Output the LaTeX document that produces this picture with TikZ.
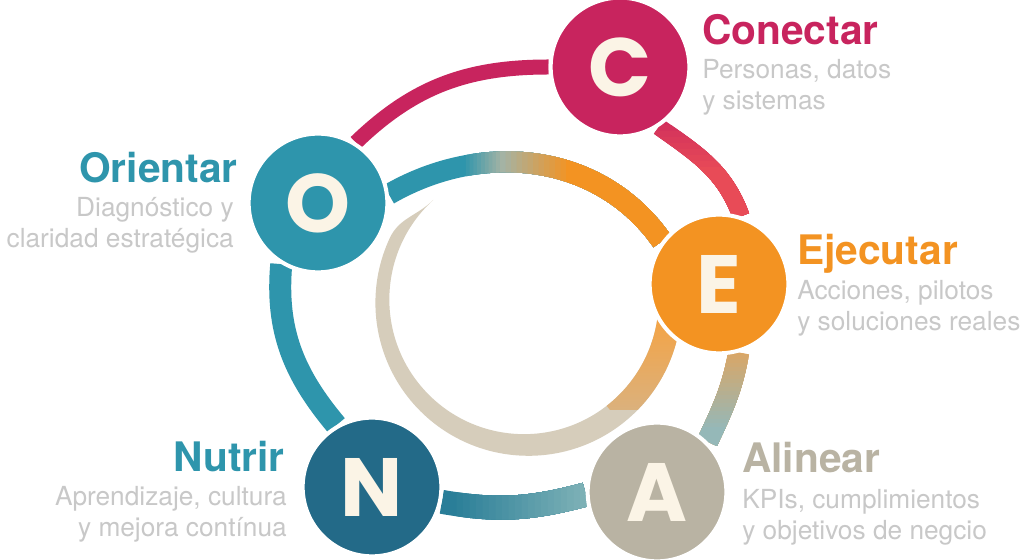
\documentclass[tikz,border=0pt]{standalone}
\usepackage{fontspec}
\setmainfont{TeX Gyre Heros}
\newfontfamily\letterfont{Poppins}
\usetikzlibrary{backgrounds}
\definecolor{crim}{HTML}{C8245E}
\definecolor{coral}{HTML}{E84B57}
\definecolor{tealc}{HTML}{2E95AC}
\definecolor{navy}{HTML}{236A88}
\definecolor{ntl}{HTML}{2A7E98}
\definecolor{lteal}{HTML}{7DB1B6}
\definecolor{orng}{HTML}{F39322}
\definecolor{stone}{HTML}{B9B3A3}
\definecolor{sand}{HTML}{D6CDBB}
\definecolor{sagec}{HTML}{A4B3A4}
\definecolor{tanc}{HTML}{DDA562}
\definecolor{mist}{HTML}{95B8B8}
\definecolor{cream}{HTML}{FBF4E6}
\definecolor{txtgray}{HTML}{C8C8C8}

\begin{document}
\begin{tikzpicture}[x=0.75pt,y=0.75pt,
  letter/.style={circle,minimum size=104pt,inner sep=0pt,draw=white,line width=3pt,text=cream,
    font=\letterfont\bfseries\fontsize{62}{62}\selectfont},
  title/.style={inner sep=0pt,font=\bfseries\fontsize{30.5}{36}\selectfont},
  desc/.style={inner sep=0pt,text=txtgray,font=\fontsize{19.7}{23.25}\selectfont},
  arcline/.style={line width=#1,line cap=butt}]
\useasboundingbox(0,0)rectangle(1024,560);
\node[letter,fill=crim](c)at(620,493){C};
\node[letter,fill=tealc](o)at(318,357){O};
\node[letter,fill=orng](e)at(719,276){E};
\node[letter,fill=navy](n)at(372,73){N};
\node[letter,fill=stone](a)at(657,68){A};
\node[title,text=crim,anchor=base west](ct)at(702,515){Conectar};
\node[desc,align=left,anchor=base west](cd)at(702,450){Personas, datos\\y sistemas};
\node[title,text=orng,anchor=base west](et)at(797,295){Ejecutar};
\node[desc,align=left,anchor=base west](ed)at(797,229){Acciones, pilotos\\y soluciones reales};
\node[title,text=stone,anchor=base west](at)at(742,87){Alinear};
\node[desc,align=left,anchor=base west](ad)at(742,20){KPIs, cumplimientos\\y objetivos de negcio};
\node[title,text=tealc,anchor=base east](ot)at(238,377){Orientar};
\node[desc,align=right,anchor=base east](od)at(234,312){Diagnóstico y\\claridad estratégica};
\node[title,text=tealc,anchor=base east](nt)at(285,88){Nutrir};
\node[desc,align=right,anchor=base east](nd)at(287,23){Aprendizaje, cultura\\y mejora contínua};
\begin{scope}[on background layer]
\fill[white](0,0)rectangle(1024,560);
\draw[arcline=11.25pt,crim](o.58)to[out=44,in=180](c.180);
\draw[arcline=16.5pt,tealc](o.239)to[out=-95,in=130](n.120);
\draw[arcline=12.75pt,crim!70!coral](c.-57)to[out=-35,in=110](e.72);
\foreach \k in {1,...,8}{
  \pgfmathtruncatemacro\p{\k*12.5}
  \begin{scope}
    \clip(0,0)rectangle(1024,440-\k*6);
    \draw[arcline=12.75pt,color=coral!\p!crim!70!coral](c.-57)to[out=-35,in=110](e.72);
  \end{scope}}
\draw[arcline=15.75pt,tanc](e.-74)to[out=-100,in=65](a.45);
\foreach \k in {1,...,20}{
  \pgfmathtruncatemacro\p{\k*5}
  \begin{scope}
    \clip(0,0)rectangle(1024,212-\k*4);
    \draw[arcline=15.75pt,color=mist!\p!tanc](e.-74)to[out=-100,in=65](a.45);
  \end{scope}}
\draw[arcline=18pt,ntl](n.-12)to[out=-10,in=195](a.182);
\foreach \k in {1,...,20}{
  \pgfmathtruncatemacro\p{\k*5}
  \begin{scope}
    \clip(450+\k*6.5,0)rectangle(1024,560);
    \draw[arcline=18pt,color=lteal!\p!ntl](n.-12)to[out=-10,in=195](a.182);
  \end{scope}}
\draw[arcline=15.75pt,tealc](o.7)to[out=30,in=125](e.143);
\foreach \k in {1,...,10}{
  \pgfmathtruncatemacro\p{\k*10}
  \begin{scope}
    \clip(462+\k*3.8,0)rectangle(1024,560);
    \draw[arcline=15.75pt,color=sagec!\p!tealc](o.7)to[out=30,in=125](e.143);
  \end{scope}}
\foreach \k in {1,...,12}{
  \pgfmathtruncatemacro\p{\k*100/12}
  \begin{scope}
    \clip(500+\k*5.5,0)rectangle(1024,560);
    \draw[arcline=15.75pt,color=orng!\p!sagec](o.7)to[out=30,in=125](e.143);
  \end{scope}}
\begin{scope}
  \clip(681.4,257.2)arc[start angle=0,end angle=-205,radius=153]
    to[out=65,in=225](433.2,360)
    arc[start angle=132.4,end angle=360,radius=134.7]--cycle;
  \fill[sand](0,0)rectangle(1024,560);
  \clip(524,260)--(678,63)--(800,63)--(800,303)--cycle;
  \shade[top color=orng!85!white,bottom color=tanc!70!sand](560,150)rectangle(720,245);
\end{scope}
\end{scope}
\end{tikzpicture}
\end{document}
